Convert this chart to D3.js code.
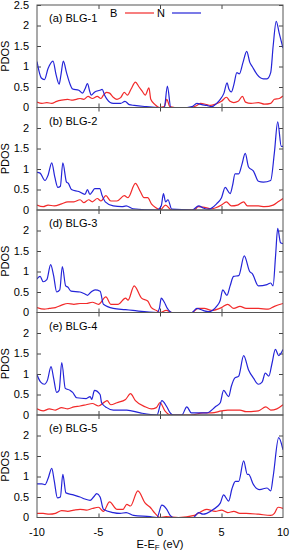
<!DOCTYPE html>
<html>
<head>
<meta charset="utf-8">
<script src="https://cdn.jsdelivr.net/npm/d3@7"></script>
<style>
  body { margin: 0; background: #fff; }
  svg { display: block; font-family: "Liberation Sans", Arial, sans-serif; }
</style>
</head>
<body>
<div id="chart"></div>
<script>
// Panel labels (kept as printed in the figure)
const panelLabels = ["(a) BLG-1", "(b) BLG-2", "(d) BLG-3", "(e) BLG-4", "(e) BLG-5"];
const xTicks = [-10, -5, 0, 5, 10];
const yTicks = [0, 0.5, 1, 1.5, 2, 2.5];

// B (red) and N (blue) PDOS, [energy eV, PDOS]
const B1 = [[-10,0.13],[-9.6,0.1],[-9.2,0.12],[-8.8,0.1],[-8.4,0.15],[-8,0.18],[-7.5,0.2],[-7.2,0.18],[-6.8,0.2],[-6.5,0.22],[-6.2,0.2],[-5.85,0.27],[-5.5,0.22],[-5.1,0.27],[-4.8,0.22],[-4.6,0.3],[-4.35,0.37],[-4.1,0.35],[-3.8,0.25],[-3.5,0.2],[-3.2,0.24],[-2.9,0.37],[-2.65,0.3],[-2.35,0.45],[-2.0,0.62],[-1.7,0.5],[-1.45,0.4],[-1.2,0.3],[-0.9,0.48],[-0.75,0.2],[-0.4,0.07],[-0.05,0],[0.35,0.02],[0.55,0.2],[0.8,0.02],[1.2,0],[2.5,0],[3.0,0.05],[3.3,0.1],[3.7,0.08],[4.1,0.05],[4.5,0.08],[5.0,0.15],[5.4,0.25],[5.7,0.15],[6.0,0.12],[6.35,0.15],[6.7,0.27],[6.95,0.13],[7.4,0.1],[8.0,0.12],[8.5,0.08],[9.0,0.1],[9.3,0.2],[9.7,0.22],[10,0.28]];
const N1 = [[-10,1.12],[-9.65,0.72],[-9.4,0.68],[-9.1,0.95],[-8.7,1.13],[-8.45,0.8],[-8.2,0.57],[-8.05,0.8],[-7.86,1.13],[-7.6,0.85],[-7.35,0.6],[-7.1,0.45],[-6.6,0.42],[-6.3,0.35],[-6.1,0.45],[-5.9,0.58],[-5.7,0.38],[-5.6,0.3],[-5.3,0.38],[-4.9,0.42],[-4.7,0.44],[-4.5,0.3],[-4.3,0.2],[-3.8,0.1],[-3.2,0.1],[-2.85,0.15],[-2.5,0.07],[-2.1,0.05],[-1.1,0.02],[-0.1,0],[0.35,0],[0.6,0.52],[0.88,0],[2.2,0],[2.6,0.02],[3.0,0.1],[3.4,0.07],[3.8,0.05],[4.2,0.02],[4.6,0.1],[4.9,0.2],[5.2,0.35],[5.45,0.6],[5.6,0.45],[5.8,0.38],[6.0,0.55],[6.25,0.85],[6.45,0.82],[6.75,1.1],[7.05,1.37],[7.3,1.1],[7.5,1.0],[7.9,0.8],[8.4,0.7],[8.7,0.7],[9.0,0.85],[9.2,1.5],[9.45,2.1],[9.7,1.8],[10,1.45]];

const B2 = [[-10,0.12],[-9.5,0.08],[-9.1,0.12],[-8.6,0.1],[-8,0.15],[-7.5,0.2],[-7,0.2],[-6.5,0.25],[-6.2,0.18],[-5.8,0.25],[-5.5,0.2],[-5.1,0.28],[-4.8,0.22],[-4.4,0.35],[-4.0,0.22],[-3.5,0.22],[-2.9,0.35],[-2.6,0.3],[-2.0,0.65],[-1.6,0.45],[-1.3,0.3],[-1.0,0.3],[-0.7,0.15],[-0.3,0.05],[0,0],[0.45,0.12],[0.95,0],[2.8,0],[3.1,0.08],[3.5,0.07],[4.2,0.03],[5.0,0.12],[5.4,0.2],[5.8,0.1],[6.3,0.12],[6.8,0.2],[7.1,0.1],[8.0,0.1],[8.5,0.08],[9.2,0.12],[9.6,0.2],[10,0.28]];
const N2 = [[-10,0.92],[-9.75,0.9],[-9.35,0.72],[-9.1,0.85],[-8.8,1.15],[-8.55,0.8],[-8.3,0.55],[-8.1,0.58],[-7.9,1.15],[-7.6,0.68],[-7.45,0.65],[-7.2,0.5],[-6.6,0.45],[-6.1,0.38],[-5.9,0.5],[-5.7,0.38],[-5.5,0.45],[-5.3,0.52],[-4.9,0.52],[-4.7,0.35],[-4.45,0.2],[-3.8,0.1],[-3.1,0.08],[-2.75,0.1],[-2.2,0.03],[-0.25,0],[0.1,0.1],[0.28,0.4],[0.45,0.2],[0.65,0.25],[0.95,0.02],[2.6,0],[3.15,0.1],[3.5,0.05],[3.95,0.02],[4.6,0.15],[5.0,0.3],[5.3,0.55],[5.7,0.4],[5.9,0.6],[6.1,0.88],[6.4,0.88],[6.65,1.1],[6.93,1.38],[7.2,1.05],[7.6,0.95],[8.0,0.7],[8.4,0.68],[9.0,0.72],[9.3,1.4],[9.57,2.15],[9.86,1.55],[10,1.55]];

const B3 = [[-10,0.12],[-9.4,0.08],[-9,0.1],[-8.5,0.12],[-8,0.18],[-7.5,0.22],[-7,0.2],[-6.5,0.22],[-6,0.22],[-5.5,0.25],[-5,0.2],[-4.4,0.38],[-4,0.2],[-3.4,0.2],[-2.8,0.35],[-2.6,0.3],[-2.1,0.65],[-1.5,0.35],[-1.0,0.28],[-0.7,0.12],[-0.3,0.05],[0,0],[0.5,0.05],[1.0,0],[2.6,0],[3.1,0.1],[3.6,0.1],[4.2,0.05],[5.0,0.12],[5.5,0.2],[6.0,0.1],[6.5,0.15],[7.0,0.1],[8.0,0.1],[8.8,0.08],[9.3,0.15],[10,0.22]];
const N3 = [[-10,0.82],[-9.75,0.88],[-9.5,0.75],[-9.2,0.8],[-8.89,1.17],[-8.65,0.9],[-8.4,0.5],[-8.15,0.55],[-7.94,1.12],[-7.67,0.65],[-7.5,0.62],[-7.23,0.52],[-6.5,0.5],[-6.1,0.45],[-5.9,0.42],[-5.6,0.5],[-5.28,0.55],[-4.87,0.52],[-4.6,0.2],[-3.8,0.1],[-2.8,0.07],[-2.2,0.05],[-0.25,0],[-0.05,0.1],[0.1,0.35],[0.35,0.25],[0.6,0.1],[0.95,0],[2.6,0],[3.0,0.1],[3.5,0.05],[3.95,0.02],[4.6,0.15],[4.9,0.3],[5.1,0.55],[5.44,0.42],[5.7,0.65],[5.98,0.88],[6.4,0.9],[6.85,1.38],[7.29,1.0],[7.5,0.95],[8.0,0.65],[8.7,0.68],[9.0,0.72],[9.19,0.65],[9.4,1.4],[9.57,2.05],[9.8,1.7],[10,1.68]];

const B4 = [[-10,0.15],[-9.5,0.1],[-9,0.15],[-8.5,0.12],[-8,0.18],[-7.5,0.15],[-7,0.2],[-6.5,0.22],[-6,0.25],[-5.5,0.28],[-5,0.22],[-4.5,0.32],[-4.3,0.35],[-4.0,0.25],[-3.5,0.3],[-2.8,0.38],[-2.4,0.52],[-2.0,0.35],[-1.2,0.2],[-0.7,0.15],[-0.3,0.18],[0,0.3],[0.4,0.1],[0.9,0],[2.5,0],[3.5,0.05],[4.2,0.05],[5.0,0.1],[5.5,0.12],[6.5,0.12],[7.0,0.08],[8.0,0.1],[8.6,0.2],[9.0,0.12],[9.5,0.15],[10,0.25]];
const N4 = [[-10,0.98],[-9.7,0.8],[-9.4,0.75],[-9.15,0.85],[-8.86,1.18],[-8.65,0.9],[-8.4,0.55],[-8.2,0.6],[-7.99,1.28],[-7.7,0.65],[-7.3,0.6],[-7.1,0.55],[-6.77,0.42],[-6.0,0.4],[-5.68,0.45],[-5.55,0.38],[-5.33,0.6],[-4.87,0.5],[-4.75,0.3],[-4.33,0.18],[-3.79,0.12],[-2.7,0.12],[-1.6,0.05],[-0.25,0],[0.15,0.35],[0.55,0.2],[0.83,0.05],[1.1,0],[1.78,0],[2.18,0.2],[2.55,0.05],[3.8,0.05],[4.5,0.2],[4.9,0.3],[5.17,0.6],[5.58,0.45],[5.8,0.7],[6.07,0.9],[6.4,0.95],[6.8,1.45],[7.2,1.1],[7.6,0.9],[8.0,0.75],[8.3,0.8],[8.56,1.02],[8.85,0.95],[9.1,1.25],[9.38,1.6],[9.65,1.45],[10,1.6]];

const B5 = [[-10,0.1],[-9.5,0.1],[-9,0.08],[-8.5,0.1],[-8,0.17],[-7.5,0.15],[-7,0.18],[-6.5,0.2],[-6,0.18],[-5.5,0.22],[-5,0.25],[-4.6,0.15],[-4.1,0.38],[-3.5,0.2],[-3.0,0.2],[-2.7,0.32],[-2.4,0.28],[-1.8,0.65],[-1.2,0.35],[-0.8,0.25],[-0.4,0.1],[0,0],[0.5,0.02],[1.5,0],[2.8,0.05],[3.2,0.12],[3.8,0.2],[4.5,0.15],[5.0,0.18],[5.5,0.12],[6.0,0.15],[6.5,0.1],[7.0,0.1],[8.0,0.08],[9.0,0.05],[9.3,0.1],[9.6,0.25],[10,0.22]];
const N5 = [[-10,0.82],[-9.6,0.82],[-9.35,0.8],[-9.1,0.95],[-8.8,1.2],[-8.6,0.9],[-8.34,0.48],[-8.1,0.5],[-7.9,1.05],[-7.65,0.6],[-7.04,0.55],[-6.5,0.5],[-6.1,0.45],[-5.68,0.42],[-5.4,0.5],[-5.14,0.58],[-4.87,0.5],[-4.6,0.2],[-3.8,0.12],[-3.25,0.1],[-2.75,0.12],[-2.15,0.05],[-0.8,0.02],[-0.25,0],[0.15,0.3],[0.55,0.2],[0.83,0.05],[1.1,0],[2.7,0],[3.13,0.12],[3.5,0.08],[3.8,0.1],[4.35,0.2],[4.9,0.35],[5.17,0.55],[5.58,0.4],[5.85,0.7],[6.13,0.88],[6.4,0.88],[6.8,1.38],[7.1,1.05],[7.2,1.05],[7.6,0.8],[8.1,0.68],[8.7,0.72],[9.0,0.65],[9.2,1.0],[9.65,1.95],[10,1.65]];

const bSeries = [B1, B2, B3, B4, B5];
const nSeries = [N1, N2, N3, N4, N5];

const width = 291, height = 551;
const margin = { top: 5, left: 37, right: 8 };
const panelH = 102.5;
const redColor = "#f22a2a", blueColor = "#2424d8";

const svg = d3.select("#chart").append("svg")
    .attr("width", width)
    .attr("height", height);

const x = d3.scaleLinear().domain([-10, 10]).range([margin.left, width - margin.right]);

const line = (y) => d3.line()
    .x(d => x(d[0]))
    .y(d => y(d[1]))
    .curve(d3.curveMonotoneX);

panelLabels.forEach((label, i) => {
    const top = margin.top + i * panelH;
    const y = d3.scaleLinear().domain([0, 2.5]).range([top + panelH, top]);
    const g = svg.append("g");

    // clip so lines stay in the frame
    svg.append("clipPath").attr("id", "clip" + i)
        .append("rect")
        .attr("x", x(-10)).attr("y", top)
        .attr("width", x(10) - x(-10)).attr("height", panelH);

    // y ticks inward, left and right
    const ticks = i === 0 ? yTicks : yTicks.slice(0, 5);
    g.append("g")
        .attr("transform", `translate(${x(-10)},0)`)
        .call(d3.axisRight(y).tickValues(ticks.slice(1)).tickSize(4).tickFormat(""))
        .call(a => a.select(".domain").remove())
        .selectAll("line").attr("stroke", "#444");
    g.append("g")
        .attr("transform", `translate(${x(10)},0)`)
        .call(d3.axisLeft(y).tickValues(ticks.slice(1)).tickSize(4).tickFormat(""))
        .call(a => a.select(".domain").remove())
        .selectAll("line").attr("stroke", "#444");
    // y tick labels
    g.selectAll(".ylab")
        .data(ticks)
        .enter().append("text")
        .attr("x", x(-10) - 8)
        .attr("y", d => y(d))
        .attr("dy", "0.35em")
        .attr("text-anchor", "end")
        .attr("font-size", 11)
        .text(d => d);

    // x ticks inward, top and bottom
    g.append("g")
        .attr("transform", `translate(0,${top + panelH})`)
        .call(d3.axisTop(x).tickValues(xTicks.slice(1, -1)).tickSize(4).tickFormat(""))
        .call(a => a.select(".domain").remove())
        .selectAll("line").attr("stroke", "#444");
    g.append("g")
        .attr("transform", `translate(0,${top})`)
        .call(d3.axisBottom(x).tickValues(xTicks.slice(1, -1)).tickSize(4).tickFormat(""))
        .call(a => a.select(".domain").remove())
        .selectAll("line").attr("stroke", "#444");

    // curves
    const plot = g.append("g").attr("clip-path", `url(#clip${i})`);
    plot.append("path")
        .datum(bSeries[i])
        .attr("fill", "none")
        .attr("stroke", redColor)
        .attr("stroke-width", 1.2)
        .attr("d", line(y));
    plot.append("path")
        .datum(nSeries[i])
        .attr("fill", "none")
        .attr("stroke", blueColor)
        .attr("stroke-width", 1.2)
        .attr("d", line(y));

    // frame
    g.append("rect")
        .attr("x", x(-10)).attr("y", top)
        .attr("width", x(10) - x(-10)).attr("height", panelH)
        .attr("fill", "none")
        .attr("stroke", "#555")
        .attr("stroke-width", 1);

    // panel label
    g.append("text")
        .attr("x", x(-10) + 12)
        .attr("y", top + 17)
        .attr("font-size", 11)
        .text(label);

    // y axis title
    g.append("text")
        .attr("transform", `translate(9,${top + panelH / 2}) rotate(-90)`)
        .attr("text-anchor", "middle")
        .attr("font-size", 11)
        .text("PDOS");
});

// legend in the first panel
const legend = [["B", redColor, 110], ["N", blueColor, 157]];
legend.forEach(([name, color, lx]) => {
    svg.append("text")
        .attr("x", lx).attr("y", 17)
        .attr("font-size", 11)
        .text(name);
    svg.append("line")
        .attr("x1", lx + 15).attr("x2", lx + 44)
        .attr("y1", 13).attr("y2", 13)
        .attr("stroke", color)
        .attr("stroke-width", 1.2);
});

// bottom x axis labels
const bottom = margin.top + 5 * panelH;
svg.selectAll(".xlab")
    .data(xTicks)
    .enter().append("text")
    .attr("x", d => x(d))
    .attr("y", bottom + 18)
    .attr("text-anchor", "middle")
    .attr("font-size", 11)
    .text(d => d);

const title = svg.append("text")
    .attr("x", x(0))
    .attr("y", bottom + 30)
    .attr("text-anchor", "middle")
    .attr("font-size", 11);
title.append("tspan").text("E-E");
title.append("tspan").attr("font-size", 8).attr("dy", 2).text("F");
title.append("tspan").attr("dy", -2).text(" (eV)");
</script>
</body>
</html>
